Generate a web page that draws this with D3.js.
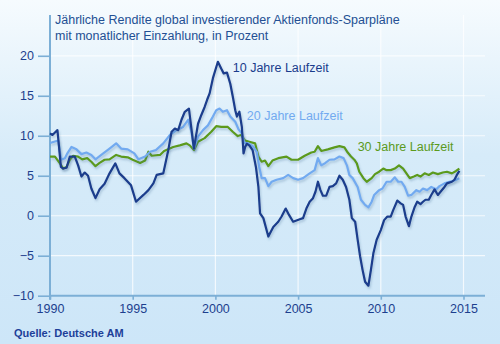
<!DOCTYPE html>
<html><head><meta charset="utf-8">
<script src="https://cdn.jsdelivr.net/npm/d3@7/dist/d3.min.js"></script>
<style>html,body{margin:0;padding:0;background:#d0e8f8;}svg{display:block;}</style>
</head><body>
<script>
const title = ["Jährliche Rendite global investierender Aktienfonds-Sparpläne", "mit monatlicher Einzahlung, in Prozent"];
const source = "Quelle: Deutsche AM";
const seriesNames = ["10 Jahre Laufzeit", "20 Jahre Laufzeit", "30 Jahre Laufzeit"];
const xTicks = [1990, 1995, 2000, 2005, 2010, 2015];
const yTicks = [-10, -5, 0, 5, 10, 15, 20];

const t10 = [1990.0,1990.15,1990.3,1990.45,1990.66,1990.8,1991.0,1991.2,1991.5,1991.7,1991.9,1992.1,1992.3,1992.5,1992.75,1993.0,1993.3,1993.6,1993.95,1994.2,1994.5,1994.9,1995.2,1995.65,1995.95,1996.25,1996.45,1996.85,1997.15,1997.35,1997.55,1997.75,1997.95,1998.15,1998.4,1998.55,1998.7,1998.95,1999.15,1999.35,1999.5,1999.65,1999.85,2000.15,2000.35,2000.5,2000.7,2000.9,2001.05,2001.2,2001.3,2001.45,2001.6,2001.7,2001.8,2001.9,2002.05,2002.25,2002.45,2002.6,2002.7,2002.9,2003.2,2003.5,2003.8,2004.0,2004.25,2004.45,2004.7,2005.1,2005.3,2005.5,2005.7,2005.9,2006.05,2006.2,2006.35,2006.5,2006.7,2006.9,2007.1,2007.3,2007.5,2007.7,2007.9,2008.1,2008.25,2008.45,2008.6,2008.75,2008.9,2009.05,2009.25,2009.4,2009.55,2009.75,2010.0,2010.2,2010.4,2010.6,2010.75,2011.0,2011.2,2011.35,2011.5,2011.7,2011.85,2012.05,2012.2,2012.4,2012.55,2012.7,2012.9,2013.05,2013.25,2013.45,2013.65,2013.85,2014.0,2014.3,2014.45,2014.6,2014.75];
const v10 = [10.3,10.1,10.4,10.7,6.1,5.9,6.0,7.4,7.4,6.3,4.9,5.4,5.0,3.4,2.2,3.3,4.0,5.3,6.55,5.3,4.7,3.8,1.75,2.6,3.2,4.05,5.1,5.3,8.2,10.5,10.9,10.7,12.0,13.0,13.4,10.9,8.4,11.5,12.6,13.6,14.5,15.3,17.2,19.25,18.4,17.8,17.9,16.5,14.9,13.2,12.4,13.0,11.1,7.8,8.6,9.0,8.8,8.2,6.1,3.6,0.3,-0.3,-2.6,-1.4,-0.75,-0.1,0.9,0.1,-0.75,-0.45,-0.3,0.9,1.75,2.2,3.0,4.25,3.2,2.5,2.5,3.6,3.7,4.05,5.0,4.5,3.6,2.0,-0.3,-0.75,-3.0,-5.1,-6.8,-8.25,-8.75,-6.8,-4.7,-3.0,-1.8,-0.55,-0.1,-0.1,0.7,1.9,1.55,1.35,-0.1,-1.3,-0.1,1.1,1.75,1.45,1.75,2.0,2.0,2.6,3.3,2.6,3.1,3.6,4.05,4.25,4.5,5.1,5.6];

const t20 = [1990.0,1990.5,1990.67,1990.9,1991.05,1991.3,1991.6,1991.9,1992.2,1992.5,1992.75,1993.1,1993.6,1994.0,1994.3,1994.7,1995.1,1995.35,1995.75,1996.05,1996.4,1996.85,1997.25,1997.65,1998.05,1998.35,1998.55,1998.7,1998.95,1999.25,1999.55,1999.85,2000.05,2000.25,2000.45,2000.7,2000.9,2001.2,2001.4,2001.6,2001.75,2002.0,2002.3,2002.5,2002.65,2002.8,2003.0,2003.2,2003.4,2003.7,2004.1,2004.4,2004.7,2005.0,2005.3,2005.7,2006.0,2006.2,2006.4,2006.65,2006.9,2007.2,2007.5,2007.75,2007.95,2008.1,2008.3,2008.6,2008.8,2009.05,2009.25,2009.45,2009.6,2009.9,2010.1,2010.35,2010.6,2010.85,2011.05,2011.25,2011.45,2011.65,2011.85,2012.15,2012.35,2012.55,2012.8,2013.05,2013.35,2013.55,2013.85,2014.15,2014.45,2014.75];
const v20 = [9.1,9.4,7.0,7.2,7.8,8.6,8.3,7.7,7.9,7.6,7.05,7.6,8.4,9.05,8.4,8.3,7.8,7.05,7.4,8.0,8.2,9.05,10.1,10.7,11.1,12.0,10.5,8.4,9.9,10.7,11.3,12.4,13.2,13.4,13.0,13.2,12.4,11.75,10.8,10.3,9.1,9.05,8.6,8.0,6.1,4.7,4.7,3.7,4.25,4.5,4.7,5.1,4.7,4.5,4.7,5.3,5.7,7.2,6.3,6.6,7.0,7.05,7.4,7.2,6.3,5.1,4.7,3.6,2.0,1.35,1.05,1.75,2.6,3.2,3.4,4.25,4.25,4.8,4.25,4.25,3.6,2.5,2.6,3.2,3.0,3.4,3.2,3.6,3.3,3.7,4.05,4.25,4.4,4.7];

const t30 = [1990.0,1990.3,1990.6,1990.8,1991.0,1991.2,1991.4,1991.7,1991.95,1992.25,1992.5,1992.75,1993.0,1993.3,1993.6,1994.0,1994.3,1994.7,1995.0,1995.45,1995.75,1995.95,1996.15,1996.65,1996.9,1997.45,1997.85,1998.25,1998.45,1998.7,1998.95,1999.35,1999.75,2000.05,2000.35,2000.75,2001.05,2001.35,2001.55,2001.8,2002.05,2002.4,2002.6,2002.8,2003.0,2003.2,2003.45,2003.8,2004.3,2004.6,2005.0,2005.4,2005.8,2006.0,2006.2,2006.4,2006.8,2007.2,2007.5,2007.8,2008.0,2008.2,2008.4,2008.55,2008.7,2008.95,2009.15,2009.45,2009.65,2009.9,2010.15,2010.35,2010.6,2010.85,2011.1,2011.35,2011.55,2011.75,2012.0,2012.2,2012.4,2012.65,2012.9,2013.15,2013.45,2013.75,2014.0,2014.3,2014.55,2014.75];
const v30 = [7.4,7.4,6.55,5.9,6.1,7.0,7.5,7.4,7.05,7.2,6.75,6.2,6.6,7.0,7.05,7.6,7.4,7.3,7.0,6.6,6.9,8.0,7.5,7.6,8.1,8.6,8.8,9.05,8.8,8.2,9.25,9.7,10.5,11.2,11.1,11.1,10.5,9.96,10.1,9.4,9.25,9.05,7.4,6.75,6.9,6.2,6.9,7.2,7.4,7.0,7.0,7.5,7.9,8.0,8.7,8.1,8.3,8.55,8.7,8.55,7.9,7.4,7.0,6.55,5.5,4.7,4.25,4.7,5.2,5.5,5.9,5.7,5.7,5.9,6.3,5.9,5.3,4.7,4.9,5.1,4.9,5.3,5.1,5.4,5.2,5.4,5.5,5.3,5.6,5.9];

const W = 500, H = 344;
const svg = d3.select("body").append("svg").attr("width", W).attr("height", H);
const defs = svg.append("defs");
const grad = defs.append("linearGradient").attr("id","bg").attr("x1",0).attr("y1",0).attr("x2",0).attr("y2",1);
grad.append("stop").attr("offset","0%").attr("stop-color","#f6fbfe");
grad.append("stop").attr("offset","45%").attr("stop-color","#d6ebf9");
grad.append("stop").attr("offset","100%").attr("stop-color","#cde6f8");
const f = defs.append("filter").attr("id","sh").attr("x","-10%").attr("y","-10%").attr("width","130%").attr("height","130%");
f.append("feDropShadow").attr("dx",1).attr("dy",2).attr("stdDeviation",1.2).attr("flood-color","#3d6a92").attr("flood-opacity",0.3);

svg.append("rect").attr("width",W).attr("height",H).attr("fill","url(#bg)");

const x = d3.scaleLinear().domain([1990, 2016.3]).range([50, 485]);
const y = d3.scaleLinear().domain([-10, 25.1]).range([295.7, 15]);

// grid
const grid = svg.append("g").attr("stroke","#ffffff").attr("stroke-opacity",0.75).attr("stroke-width",1.2);
grid.selectAll(".h").data(yTicks.filter(d=>d>-10)).enter().append("line")
  .attr("x1",x.range()[0]).attr("x2",x.range()[1]).attr("y1",d=>y(d)).attr("y2",d=>y(d));
grid.selectAll(".v").data(xTicks.filter(d=>d>1990)).enter().append("line")
  .attr("x1",d=>x(d)).attr("x2",d=>x(d)).attr("y1",y.range()[1]).attr("y2",y(-10));

// title
const tt = svg.append("text").attr("fill","#234f93").attr("font-family","Liberation Sans, Arial, sans-serif").attr("font-size","12.5px");
title.forEach((s,i)=>tt.append("tspan").attr("x",55).attr("y",24+i*15.5).text(s));

// axes
const axCol = "#7cafd6";
const yAxis = svg.append("g").attr("transform",`translate(${x(1990)},0)`)
  .call(d3.axisLeft(y).tickValues(yTicks).tickSize(12).tickPadding(4).tickFormat(d=>d<0?"\u2212"+Math.abs(d):d));
const xAxis = svg.append("g").attr("transform",`translate(0,${y(-10)})`)
  .call(d3.axisBottom(x).tickValues(xTicks).tickSize(4).tickPadding(4).tickFormat(d3.format("d")));
[yAxis, xAxis].forEach(g=>{
  g.select(".domain").attr("stroke",axCol).attr("stroke-width",2);
  g.selectAll(".tick line").attr("stroke",axCol).attr("stroke-width",1.6);
  g.selectAll("text").attr("fill","#1d3f8e").attr("font-family","Liberation Sans, Arial, sans-serif").attr("font-size","12.5px");
});
yAxis.select(".domain").attr("d",`M0,${y.range()[1]}V${y(-10)+4}`);
xAxis.select(".domain").attr("d",`M${x.range()[0]},0H${x.range()[1]}`);

// lines
const series = [
  {t:t30, v:v30, c:"#5b9a1c"},
  {t:t20, v:v20, c:"#72aaf0"},
  {t:t10, v:v10, c:"#1a3c8c"}
];
const line = d3.line().x(d=>x(d[0])).y(d=>y(d[1]));
series.forEach(s=>{
  svg.append("path").datum(d3.zip(s.t, s.v)).attr("d", line)
    .attr("fill","none").attr("stroke",s.c).attr("stroke-width",2.2)
    .attr("stroke-linejoin","round").attr("filter","url(#sh)");
});

// labels
const labs = [
  {s:seriesNames[0], xv:2001.05, yv:18.0, c:"#1a3c8c"},
  {s:seriesNames[1], xv:2001.9, yv:12.0, c:"#72aaf0"},
  {s:seriesNames[2], xv:2008.6, yv:8.1, c:"#5b9a1c"}
];
labs.forEach(l=>svg.append("text").attr("x",x(l.xv)).attr("y",y(l.yv)).attr("fill",l.c)
  .attr("font-family","Liberation Sans, Arial, sans-serif").attr("font-size","12.5px").text(l.s));

svg.append("text").attr("x",14).attr("y",337).attr("fill","#1d3f99").attr("font-weight","bold")
  .attr("font-family","Liberation Sans, Arial, sans-serif").attr("font-size","11px").text(source);
</script>
</body></html>
